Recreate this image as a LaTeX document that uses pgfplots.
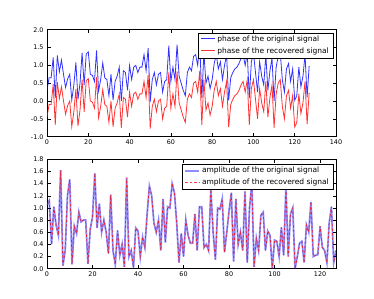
\documentclass[border=0pt]{standalone}
\usepackage{pgfplots}
\pgfplotsset{compat=1.18}
\usepackage{pgfplotstable}
\usepackage{fontspec}
\setmainfont{DejaVu Sans}

\pgfplotstableread{
i ph1 ph2
0 0.30 -0.45
1 0.65 -0.10
2 0.65 -0.10
3 1.22 0.47
4 0.08 -0.67
5 1.28 0.53
6 0.82 0.07
7 1.15 0.40
8 0.75 0.00
9 0.38 -0.37
10 0.62 -0.13
11 0.75 0.00
12 0.03 -0.72
13 0.45 -0.30
14 1.08 0.33
15 0.05 -0.70
16 0.50 -0.25
17 1.35 0.60
18 0.45 -0.30
19 1.32 0.57
20 1.38 0.63
21 0.75 0.00
22 0.72 -0.03
23 0.55 -0.20
24 1.42 0.67
25 0.28 -0.47
26 0.60 -0.15
27 1.07 0.32
28 0.65 -0.10
29 0.60 -0.15
30 0.15 -0.60
31 0.75 0.00
32 0.03 -0.72
33 0.55 -0.20
34 0.70 -0.05
35 0.95 0.20
36 0.00 -0.75
37 0.85 0.10
38 0.80 0.05
39 0.30 -0.45
40 1.00 0.25
41 0.60 -0.15
42 0.95 0.20
43 1.00 0.25
44 0.80 0.05
45 0.95 0.20
46 0.95 0.20
47 1.30 0.55
48 0.85 0.10
49 1.48 0.73
50 -0.02 -0.77
51 0.60 -0.15
52 0.80 0.05
53 0.45 -0.30
54 0.75 0.00
55 0.80 0.05
56 0.25 -0.50
57 0.55 -0.20
58 0.60 -0.15
59 1.55 0.80
60 0.55 -0.20
61 0.95 0.20
62 0.60 -0.15
63 1.58 0.83
64 0.70 -0.05
65 0.50 -0.25
66 0.30 -0.45
67 0.15 -0.60
68 0.80 0.05
69 0.95 0.20
70 0.85 0.10
71 1.25 0.50
72 1.30 0.55
73 1.00 0.25
74 1.60 0.85
75 0.08 -0.67
76 1.35 0.60
77 0.50 -0.25
78 0.70 -0.05
79 0.35 -0.40
80 0.60 -0.15
81 1.05 0.30
82 1.30 0.55
83 0.90 0.15
84 1.10 0.35
85 0.60 -0.15
86 1.00 0.25
87 1.30 0.55
88 0.02 -0.73
89 0.65 -0.10
90 0.80 0.05
91 0.90 0.15
92 0.95 0.20
93 1.05 0.30
94 1.20 0.45
95 1.30 0.55
96 1.00 0.25
97 1.35 0.60
98 0.08 -0.67
99 1.10 0.35
100 1.35 0.60
101 0.80 0.05
102 0.25 -0.50
103 1.10 0.35
104 0.70 -0.05
105 0.45 -0.30
106 1.30 0.55
107 0.30 -0.45
108 0.85 0.10
109 1.20 0.45
110 0.00 -0.75
111 0.95 0.20
112 1.25 0.50
113 1.35 0.60
114 0.60 -0.15
115 0.25 -0.50
116 0.90 0.15
117 1.05 0.30
118 0.55 -0.20
119 0.90 0.15
120 0.02 -0.73
121 0.15 -0.60
122 0.95 0.20
123 0.40 -0.35
124 0.70 -0.05
125 1.30 0.55
126 0.10 -0.65
127 0.98 0.23
}\phasetable

\pgfplotstableread{
i amp
0 1.05
1 1.12
2 0.40
3 1.02
4 0.72
5 0.55
6 1.62
7 0.05
8 0.30
9 1.20
10 1.47
11 0.07
12 0.70
13 0.58
14 0.93
15 0.77
16 0.80
17 0.80
18 0.08
19 0.65
20 0.85
21 1.57
22 0.67
23 1.07
24 0.60
25 0.80
26 0.60
27 0.25
28 1.22
29 0.30
30 0.07
31 0.63
32 0.22
33 0.40
34 0.03
35 1.50
36 0.20
37 0.30
38 0.02
39 0.67
40 0.62
41 0.20
42 0.52
43 0.35
44 0.90
45 1.36
46 1.20
47 0.75
48 0.60
49 0.80
50 0.30
51 1.15
52 0.43
53 1.02
54 1.00
55 1.40
56 1.25
57 0.75
58 0.10
59 0.58
60 0.20
61 0.80
62 0.55
63 0.42
64 0.42
65 0.90
66 0.30
67 1.02
68 1.02
69 0.35
70 0.40
71 0.30
72 1.30
73 0.60
74 0.15
75 1.00
76 0.98
77 1.15
78 0.27
79 0.60
80 0.95
81 1.25
82 0.12
83 1.15
84 0.40
85 0.60
86 0.30
87 1.27
88 0.10
89 1.00
90 1.40
91 0.03
92 0.50
93 0.30
94 0.88
95 0.93
96 0.30
97 0.62
98 0.55
99 0.00
100 0.47
101 0.45
102 0.20
103 0.68
104 0.22
105 1.35
106 0.20
107 0.90
108 1.00
109 0.00
110 0.20
111 0.42
112 0.45
113 0.10
114 0.72
115 0.60
116 1.10
117 0.20
118 0.22
119 0.23
120 0.70
121 0.35
122 0.30
123 0.10
124 0.75
125 1.02
126 0.10
127 0.30
}\amptable

\pgfplotsset{
  common/.style={
    scale only axis,
    width=289pt,
    anchor=south west,
    axis line style={line width=0.7pt},
    tick style={black, line width=0.5pt},
    major tick length=3.5pt,
    tick align=inside,
    ticklabel style={font=\fontsize{6.4}{7}\selectfont},
    /pgf/number format/assume math mode=true,
    legend cell align=left,
    legend style={font=\fontsize{7.5}{8}\selectfont,
      inner xsep=2pt, inner ysep=1pt, row sep=0.6pt,
      anchor=north east},
  },
}

\begin{document}
\begin{tikzpicture}
\path[use as bounding box] (0,0) rectangle (374pt,299pt);
\begin{axis}[common,
  at={(47pt,162.3pt)},
  height=107pt,
  xmin=0, xmax=140, ymin=-1, ymax=2,
  xtick={0,20,...,140},
  ytick={-1,-0.5,0,0.5,1,1.5,2},
  yticklabel style={/pgf/number format/.cd, fixed, fixed zerofill, precision=1},
  legend style={at={(1,1)}, xshift=-3pt, yshift=-3.3pt},
]
\addplot[color=blue, draw opacity=0.8, line width=0.8pt,
  legend image code/.code={\draw[color=blue, line width=1.1pt] (0pt,1pt) -- (14pt,1pt);}]
  table[x=i, y=ph1] {\phasetable};
\addlegendentry{phase of the original signal}
\addplot[color=red, draw opacity=0.8, line width=0.8pt,
  legend image code/.code={\draw[color=red, line width=1.1pt] (0pt,1pt) -- (14pt,1pt);}]
  table[x=i, y=ph2] {\phasetable};
\addlegendentry{phase of the recovered signal}
\end{axis}

\begin{axis}[common,
  at={(47pt,30.3pt)},
  height=109.4pt,
  xmin=0, xmax=127, ymin=0, ymax=1.8,
  xtick={0,20,...,120},
  ytick={0,0.2,...,1.8},
  yticklabel style={/pgf/number format/.cd, fixed, fixed zerofill, precision=1},
  legend style={at={(1,1)}, xshift=-3pt, yshift=-4.7pt},
]
\addplot[color=blue, draw opacity=0.45, line width=1.8pt,
  legend image code/.code={\draw[blue, draw opacity=0.45, line width=1.8pt] (0pt,0pt) -- (14pt,0pt);}]
  table[x=i, y=amp] {\amptable};
\addlegendentry{amplitude of the original signal}
\addplot[color=red, draw opacity=0.75, line width=0.75pt, dash pattern=on 2.5pt off 2pt,
  legend image code/.code={\draw[red, draw opacity=0.75, line width=0.9pt, dash pattern=on 2.5pt off 2pt] (0pt,0pt) -- (14pt,0pt);}]
  table[x=i, y=amp] {\amptable};
\addlegendentry{amplitude of the recovered signal}
\end{axis}
\end{tikzpicture}
\end{document}
